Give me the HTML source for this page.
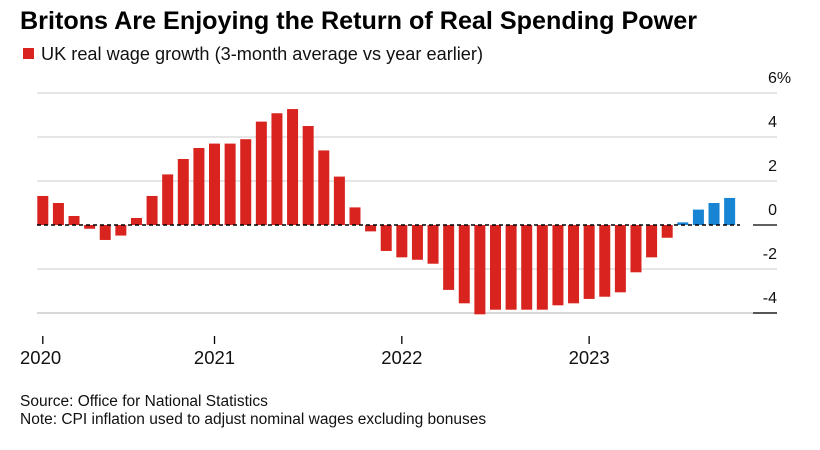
<!DOCTYPE html>
<html><head><meta charset="utf-8"><style>
body{margin:0;background:#fff;width:820px;height:445px;overflow:hidden;font-family:"Liberation Sans",Arial,sans-serif}
svg text{font-family:"Liberation Sans",Arial,sans-serif}
</style></head><body>
<svg width="820" height="445">
<text x="20" y="29" font-size="25" font-weight="bold" fill="#000" textLength="677" lengthAdjust="spacingAndGlyphs">Britons Are Enjoying the Return of Real Spending Power</text>
<rect x="23" y="48" width="11" height="11" fill="#d9231f"/>
<text x="41" y="60" font-size="18" fill="#111" textLength="442" lengthAdjust="spacingAndGlyphs">UK real wage growth (3-month average vs year earlier)</text>
<g id="grid"></g><g id="bars"></g><g id="axes"></g>
<text x="20" y="406" font-size="15.5" fill="#111">Source: Office for National Statistics</text>
<text x="20" y="424" font-size="15.5" fill="#111">Note: CPI inflation used to adjust nominal wages excluding bonuses</text>
</svg>
<script>
const values=[1.32,1.0,0.41,-0.17,-0.68,-0.48,0.32,1.32,2.3,3.0,3.5,3.7,3.7,3.9,4.7,5.08,5.27,4.5,3.39,2.2,0.8,-0.29,-1.18,-1.47,-1.58,-1.76,-2.95,-3.56,-4.06,-3.85,-3.85,-3.85,-3.85,-3.65,-3.56,-3.36,-3.26,-3.06,-2.15,-1.47,-0.58,0.12,0.7,1.0,1.23];
const blueFrom=41;
const yTicks=[6,4,2,0,-2,-4];
const yearLabels=["2020","2021","2022","2023"];
const yearBarIndex=[0,11,23,35];
const NS="http://www.w3.org/2000/svg";
const y0=225,ppu=22,x0=42.8,pitch=15.61,bw=11;
const ys=v=>y0-v*ppu, xs=i=>x0+i*pitch;
function mk(t,a,p){const e=document.createElementNS(NS,t);for(const k in a)e.setAttribute(k,a[k]);document.getElementById(p).appendChild(e);return e;}
yTicks.forEach(t=>{
  if(t!==0){const l=mk('line',{x1:37,x2:777,y1:ys(t),y2:ys(t),stroke:t===-4?'#ccc':'#ddd','stroke-width':1.5},'grid');
  
  }
  const tx=mk('text',{x:t===6?768:777,y:ys(t)-10,'font-size':16,'text-anchor':t===6?'start':'end',fill:'#111'},'axes');
  tx.textContent=t===6?'6%':String(t);
  
  
});
values.forEach((v,i)=>{
  const r=mk('rect',{x:xs(i)-bw/2,y:Math.min(ys(v),y0),width:bw,height:Math.abs(v)*ppu,fill:i>=blueFrom?'#1784d4':'#d9231f'},'bars');
  
  
});
const z=mk('line',{x1:37,x2:740,y1:y0,y2:y0,stroke:'#000','stroke-width':1.5,'stroke-dasharray':'4,3'},'axes');


const z2=mk('line',{x1:753,x2:777,y1:y0,y2:y0,stroke:'#000','stroke-width':1.2},'axes');


const m4=mk('line',{x1:753,x2:777,y1:ys(-4),y2:ys(-4),stroke:'#000','stroke-width':1.2},'axes');


yearLabels.forEach((lab,k)=>{
  const x=xs(yearBarIndex[k]);
  const t=mk('line',{x1:x,x2:x,y1:336,y2:344,stroke:'#000','stroke-width':1.3},'axes');
  
  
  const tx=mk('text',{x:k===0?20:x,y:364,'font-size':18.5,'text-anchor':k===0?'start':'middle',fill:'#111'},'axes');
  tx.textContent=lab;
  
  
});
</script>
</body></html>
